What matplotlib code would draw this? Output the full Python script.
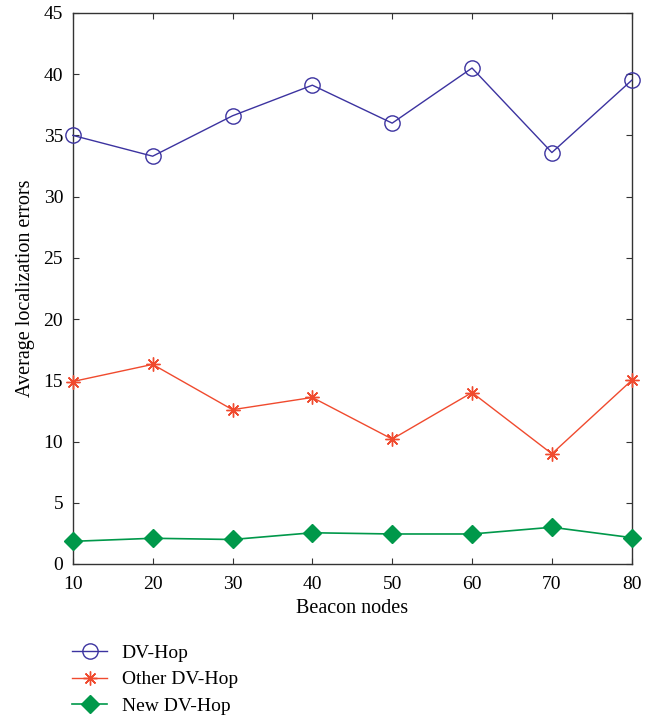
import numpy as np
import matplotlib.pyplot as plt

plt.rcParams['font.family'] = ['Liberation Serif', 'DejaVu Serif']

# Average localization error versus number of beacon nodes
beacon_nodes = [10, 20, 30, 40, 50, 60, 70, 80]
dv_hop = [35.0, 33.3, 36.6, 39.1, 36.0, 40.5, 33.6, 39.5]
other_dv_hop = [14.9, 16.3, 12.6, 13.6, 10.2, 14.0, 9.0, 15.0]
new_dv_hop = [1.85, 2.1, 2.0, 2.55, 2.45, 2.45, 3.0, 2.15]

fig = plt.figure(figsize=(6.56, 7.18), dpi=100)
ax = fig.add_axes([0.111, 0.2145, 0.852, 0.7675])

ax.plot(beacon_nodes, dv_hop, color='#3c33a0', linewidth=1.0,
        marker='o', markersize=11, markerfacecolor='none',
        markeredgecolor='#3c33a0', markeredgewidth=1.0, label='DV-Hop',
        clip_on=False, zorder=3)
ax.plot(beacon_nodes, other_dv_hop, color='#f04a2e', linewidth=1.0,
        marker=(8, 2, 0), markersize=10, markeredgewidth=1.0,
        label='Other DV-Hop', clip_on=False, zorder=3)
ax.plot(beacon_nodes, new_dv_hop, color='#00984a', linewidth=1.2,
        marker='D', markersize=9, markerfacecolor='#00984a',
        markeredgecolor='#00984a', label='New DV-Hop',
        clip_on=False, zorder=3)

ax.set_xlim(10, 80)
ax.set_ylim(0, 45)
ax.set_xticks(np.arange(10, 81, 10))
ax.set_yticks(np.arange(0, 46, 5))
ax.tick_params(direction='in', top=True, right=True, labelsize=14,
               length=4, width=0.8, color='#333333')
ax.tick_params(axis='x', pad=9)
ax.tick_params(axis='y', pad=7)
for s in ax.spines.values():
    s.set_linewidth(1.0)
    s.set_color('#333333')

ax.set_xlabel('Beacon nodes', fontsize=14.5, labelpad=4)
ax.set_ylabel('Average localization errors', fontsize=14.5, labelpad=6)

fig.legend(loc='upper left', bbox_to_anchor=(0.095, 0.116), frameon=False,
           fontsize=14, handlelength=1.8, handletextpad=0.75,
           labelspacing=0.45, borderpad=0)

fig.savefig('out.png', dpi=100)
